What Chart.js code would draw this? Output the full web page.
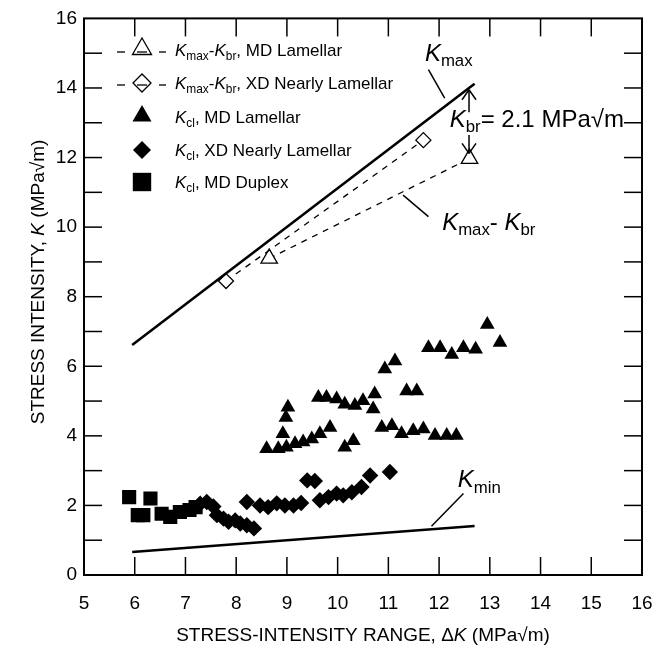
<!DOCTYPE html>
<html>
<head>
<meta charset="utf-8">
<script src="https://cdn.jsdelivr.net/npm/chart.js@4"></script>
<style>
  html, body { margin: 0; padding: 0; background: #fff; }
  #wrap { width: 670px; height: 648px; }
</style>
</head>
<body>
<div id="wrap"><canvas id="chart" width="670" height="648"></canvas></div>
<script>
// data (x = stress-intensity range dK, y = K)
const lamX = [8.60, 8.83, 8.99, 9.16, 9.32, 9.49, 9.65, 9.85, 8.92, 8.98, 9.02, 10.14, 10.31, 9.62, 9.78, 9.98, 10.14, 10.34, 10.50, 10.70,
              10.73, 10.87, 11.07, 11.26, 11.49, 11.69, 11.92, 12.15, 12.34, 10.93, 11.13, 11.36, 11.56, 11.79, 12.02, 12.25, 12.48, 12.72, 12.95, 13.20];
const lamY = [3.63, 3.63, 3.67, 3.77, 3.82, 3.91, 4.06, 4.24, 4.06, 4.53, 4.82, 3.67, 3.86, 5.10, 5.10, 5.06, 4.91, 4.87, 5.01, 4.77,
              5.20, 4.24, 4.29, 4.06, 4.15, 4.20, 4.01, 4.01, 4.01, 5.92, 6.15, 5.29, 5.29, 6.53, 6.53, 6.34, 6.53, 6.49, 7.20, 6.68];

const xdX = [7.29, 7.42, 7.55, 7.62, 7.75, 7.85, 7.98, 8.08, 8.21, 8.35, 8.21, 8.47, 8.63, 8.80, 8.96, 9.13, 9.28,
             9.40, 9.55, 9.65, 9.82, 9.98, 10.11, 10.28, 10.47, 10.64, 11.03];
const xdY = [2.05, 2.10, 1.97, 1.72, 1.62, 1.53, 1.57, 1.48, 1.43, 1.34, 2.10, 2.00, 1.95, 2.06, 2.00, 2.00, 2.07,
             2.72, 2.70, 2.15, 2.24, 2.34, 2.29, 2.38, 2.53, 2.86, 2.96];

const dupX = [5.89, 6.06, 6.17, 6.31, 6.53, 6.70, 6.89, 7.08, 7.20];
const dupY = [2.24, 1.72, 1.72, 2.20, 1.76, 1.67, 1.81, 1.87, 1.95];

const openLamX = [8.65, 12.60];
const openLamY = [9.10, 11.97];
const openXdX = [7.80, 11.69];
const openXdY = [8.45, 12.50];

const kmaxX = [5.95, 12.70];
const kmaxY = [6.61, 14.12];
const kminX = [5.95, 12.70];
const kminY = [0.66, 1.41];

const xTicks = [5, 6, 7, 8, 9, 10, 11, 12, 13, 14, 15, 16];
const yTicks = [0, 2, 4, 6, 8, 10, 12, 14, 16];

const pts = (xs, ys) => xs.map((x, i) => ({ x: x, y: ys[i] }));
const FONT = '"Liberation Sans", Arial, Helvetica, sans-serif';

// draws text made of parts: [text, 'i' italic | 's' subscript | '' plain]
function rich(ctx, x, y, parts, size, align) {
  const sub = 0.7;
  let total = 0;
  const widths = parts.map(p => {
    const s = p[1] === 's' ? size * sub : size;
    ctx.font = (p[1] === 'i' ? 'italic ' : '') + s + 'px ' + FONT;
    const w = ctx.measureText(p[0]).width;
    total += w;
    return w;
  });
  let cx = align === 'center' ? x - total / 2 : x;
  ctx.textAlign = 'left';
  ctx.textBaseline = 'alphabetic';
  parts.forEach((p, i) => {
    const s = p[1] === 's' ? size * sub : size;
    ctx.font = (p[1] === 'i' ? 'italic ' : '') + s + 'px ' + FONT;
    ctx.fillText(p[0], cx, p[1] === 's' ? y + size * 0.22 : y);
    cx += widths[i];
  });
}

function line(ctx, x1, y1, x2, y2) {
  ctx.beginPath();
  ctx.moveTo(x1, y1);
  ctx.lineTo(x2, y2);
  ctx.stroke();
}

function marker(ctx, style, x, y, r, filled) {
  ctx.beginPath();
  if (style === 'triangle') {
    ctx.moveTo(x, y - r);
    ctx.lineTo(x + r * 0.866, y + r * 0.5);
    ctx.lineTo(x - r * 0.866, y + r * 0.5);
  } else if (style === 'rectRot') {
    ctx.moveTo(x - r, y);
    ctx.lineTo(x, y - r);
    ctx.lineTo(x + r, y);
    ctx.lineTo(x, y + r);
  } else {
    const s = r * Math.SQRT1_2;
    ctx.rect(x - s, y - s, 2 * s, 2 * s);
  }
  ctx.closePath();
  if (filled) ctx.fill(); else ctx.stroke();
}

const extras = {
  id: 'extras',
  afterDraw(chart) {
    const ctx = chart.ctx;
    const a = chart.chartArea;
    const xs = chart.scales.x, ys = chart.scales.y;
    const px = v => xs.getPixelForValue(v), py = v => ys.getPixelForValue(v);
    ctx.save();
    ctx.strokeStyle = '#000';
    ctx.fillStyle = '#000';

    // frame and inward ticks
    ctx.lineWidth = 2;
    ctx.strokeRect(a.left, a.top, a.right - a.left, a.bottom - a.top);
    ctx.lineWidth = 1.5;
    for (let v = 6; v < 16; v++) {
      line(ctx, px(v), a.bottom, px(v), a.bottom - 18);
      line(ctx, px(v), a.top, px(v), a.top + 18);
    }
    for (let v = 1; v < 16; v++) {
      line(ctx, a.left, py(v), a.left + 18, py(v));
      line(ctx, a.right, py(v), a.right - 18, py(v));
    }

    // axis titles
    rich(ctx, (a.left + a.right) / 2, 641, [['STRESS-INTENSITY RANGE, \u0394', ''], ['K', 'i'], [' (MPa\u221Am)', '']], 19, 'center');
    ctx.save();
    ctx.translate(44, 282);
    ctx.rotate(-Math.PI / 2);
    rich(ctx, 0, 0, [['STRESS INTENSITY, ', ''], ['K', 'i'], [' (MPa\u221Am)', '']], 19, 'center');
    ctx.restore();

    // legend
    const rows = [50, 83, 117, 150, 182];
    const mx = 142, tx = 175;
    ctx.lineWidth = 1.3;
    [0, 1].forEach(i => {
      const y = rows[i] + 2;
      line(ctx, 117, y, 125, y);
      line(ctx, 137, y, 147, y);
      line(ctx, 159, y, 166, y);
    });
    marker(ctx, 'triangle', mx, rows[0] - 1, 11, false);
    marker(ctx, 'rectRot', mx, rows[1], 9, false);
    marker(ctx, 'triangle', mx, rows[2] - 1, 11, true);
    marker(ctx, 'rectRot', mx, rows[3], 9, true);
    marker(ctx, 'rect', mx, rows[4], 13, true);
    const ls = 17, lb = 6;
    rich(ctx, tx, rows[0] + lb, [['K', 'i'], ['max', 's'], ['-', ''], ['K', 'i'], ['br', 's'], [', MD Lamellar', '']], ls);
    rich(ctx, tx, rows[1] + lb, [['K', 'i'], ['max', 's'], ['-', ''], ['K', 'i'], ['br', 's'], [', XD Nearly Lamellar', '']], ls);
    rich(ctx, tx, rows[2] + lb, [['K', 'i'], ['cl', 's'], [', MD Lamellar', '']], ls);
    rich(ctx, tx, rows[3] + lb, [['K', 'i'], ['cl', 's'], [', XD Nearly Lamellar', '']], ls);
    rich(ctx, tx, rows[4] + lb, [['K', 'i'], ['cl', 's'], [', MD Duplex', '']], ls);

    // annotations
    ctx.lineWidth = 1.5;
    const ax = px(12.59);
    line(ctx, ax, py(13.95), ax, py(13.3));
    line(ctx, ax - 7, py(13.95) + 10, ax, py(13.95));
    line(ctx, ax, py(13.95), ax + 7, py(13.95) + 10);
    line(ctx, ax, py(12.65), ax, py(12.12));
    line(ctx, ax - 7, py(12.12) - 10, ax, py(12.12));
    line(ctx, ax, py(12.12), ax + 7, py(12.12) - 10);
    rich(ctx, px(12.21), py(12.88), [['K', 'i'], ['br', 's'], ['= 2.1 MPa\u221Am', '']], 24);

    line(ctx, px(11.79), py(14.53), px(12.11), py(13.71));
    rich(ctx, px(11.72), py(14.78), [['K', 'i'], ['max', 's']], 24);

    line(ctx, px(11.29), py(10.92), px(11.79), py(10.30));
    rich(ctx, px(12.06), py(9.93), [['K', 'i'], ['max', 's'], ['- ', ''], ['K', 'i'], ['br', 's']], 24);

    line(ctx, px(12.48), py(2.34), px(11.85), py(1.40));
    rich(ctx, px(12.37), py(2.52), [['K', 'i'], ['min', 's']], 24);
    ctx.restore();
  }
};

new Chart(document.getElementById('chart'), {
  type: 'scatter',
  data: {
    datasets: [
      { label: 'Kmax', type: 'line', data: pts(kmaxX, kmaxY), borderColor: '#000', borderWidth: 2.6, pointRadius: 0 },
      { label: 'Kmin', type: 'line', data: pts(kminX, kminY), borderColor: '#000', borderWidth: 2.6, pointRadius: 0 },
      { label: 'Kmax-Kbr, XD Nearly Lamellar', type: 'line', data: pts(openXdX, openXdY), borderColor: '#000', borderWidth: 1.3,
        borderDash: [6, 6], pointStyle: 'rectRot', pointRadius: 7.5, pointBackgroundColor: '#fff', pointBorderColor: '#000', pointBorderWidth: 1.3 },
      { label: 'Kmax-Kbr, MD Lamellar', type: 'line', data: pts(openLamX, openLamY), borderColor: '#000', borderWidth: 1.3,
        borderDash: [6, 6], pointStyle: 'triangle', pointRadius: 9.5, pointBackgroundColor: '#fff', pointBorderColor: '#000', pointBorderWidth: 1.3 },
      { label: 'Kcl, MD Lamellar', data: pts(lamX, lamY), pointStyle: 'triangle', pointRadius: 8.5, backgroundColor: '#000', borderColor: '#000', borderWidth: 0 },
      { label: 'Kcl, XD Nearly Lamellar', data: pts(xdX, xdY), pointStyle: 'rectRot', pointRadius: 8.2, backgroundColor: '#000', borderColor: '#000', borderWidth: 0 },
      { label: 'Kcl, MD Duplex', data: pts(dupX, dupY), pointStyle: 'rect', pointRadius: 10, backgroundColor: '#000', borderColor: '#000', borderWidth: 0 }
    ]
  },
  options: {
    responsive: false,
    animation: false,
    events: [],
    layout: { padding: { top: 16, right: 28, left: 0, bottom: 0 } },
    plugins: { legend: { display: false }, tooltip: { enabled: false } },
    scales: {
      x: {
        type: 'linear', min: 5, max: 16,
        afterFit: s => { s.height = 73; },
        afterBuildTicks: s => { s.ticks = xTicks.map(v => ({ value: v })); },
        grid: { display: false, drawTicks: false },
        border: { display: false },
        ticks: { color: '#000', padding: 17, maxRotation: 0, font: { family: FONT, size: 19 } }
      },
      y: {
        type: 'linear', min: 0, max: 16,
        afterFit: s => { s.width = 84; },
        afterBuildTicks: s => { s.ticks = yTicks.map(v => ({ value: v })); },
        grid: { display: false, drawTicks: false },
        border: { display: false },
        ticks: { color: '#000', padding: 7, font: { family: FONT, size: 19 } }
      }
    }
  },
  plugins: [extras]
});
</script>
</body>
</html>
